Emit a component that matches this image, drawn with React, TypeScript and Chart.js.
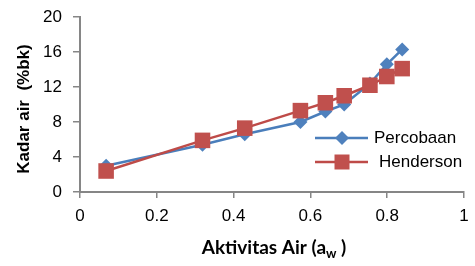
import React, { useEffect, useRef } from "react";
import { Chart, registerables } from "chart.js";

Chart.register(...registerables);

const aw = [0.068, 0.319, 0.429, 0.574, 0.639, 0.688, 0.755, 0.799, 0.839];
const percobaan = [3.0, 5.4, 6.6, 8.0, 9.2, 10.0, 12.4, 14.6, 16.3];
const henderson = [2.4, 5.9, 7.3, 9.3, 10.2, 11.0, 12.2, 13.2, 14.1];
const seriesNames = ["Percobaan", "Henderson"];
const xTickLabels = ["0", "0.2", "0.4", "0.6", "0.8", "1"];
const yTitle = "Kadar air  (%bk)";
const xTitleMain = "Aktivitas Air (a";
const xTitleSub = "w";
const xTitleEnd = " )";

const BLUE_LINE = "#4A7EBB";
const BLUE_FILL = "#4F81BD";
const RED_LINE = "#BE4B48";
const RED_FILL = "#C0504D";
const AXIS = "#868686";
const TICK_FONT = "'Liberation Sans', Arial, sans-serif";

const titlesPlugin = {
  id: "titlesLegend",
  afterDraw(chart: any) {
    const ctx = chart.ctx as CanvasRenderingContext2D;
    ctx.save();
    ctx.fillStyle = "#000";
    ctx.font = `bold 17px ${TICK_FONT}`;
    ctx.textAlign = "center";
    ctx.textBaseline = "middle";
    ctx.translate(24, 109);
    ctx.rotate(-Math.PI / 2);
    ctx.fillText(yTitle, 0, 0);
    ctx.restore();

    ctx.save();
    ctx.fillStyle = "#000";
    ctx.textBaseline = "alphabetic";
    ctx.textAlign = "left";
    const mainFont = "bold 19px Lato, 'Open Sans', sans-serif";
    const subFont = "bold 13px Lato, 'Open Sans', sans-serif";
    ctx.font = mainFont;
    const w1 = ctx.measureText(xTitleMain).width;
    const w3 = ctx.measureText(xTitleEnd).width;
    ctx.font = subFont;
    const w2 = ctx.measureText(xTitleSub).width;
    const total = w1 + w2 + w3;
    let x = 274 - total / 2;
    const base = 254;
    ctx.font = mainFont;
    ctx.fillText(xTitleMain, x, base);
    x += w1;
    ctx.font = subFont;
    ctx.fillText(xTitleSub, x, base + 4);
    x += w2;
    ctx.font = mainFont;
    ctx.fillText(xTitleEnd, x, base);
    ctx.restore();

    ctx.save();
    const items = [
      { name: seriesNames[0], line: BLUE_LINE, fill: BLUE_FILL, y: 138, tx: 374, shape: "diamond" },
      { name: seriesNames[1], line: RED_LINE, fill: RED_FILL, y: 162, tx: 379, shape: "square" },
    ];
    for (const it of items) {
      ctx.strokeStyle = it.line;
      ctx.lineWidth = 2.5;
      ctx.beginPath();
      ctx.moveTo(315, it.y);
      ctx.lineTo(368, it.y);
      ctx.stroke();
      ctx.fillStyle = it.fill;
      ctx.beginPath();
      if (it.shape === "diamond") {
        ctx.moveTo(342, it.y - 7);
        ctx.lineTo(349, it.y);
        ctx.lineTo(342, it.y + 7);
        ctx.lineTo(335, it.y);
        ctx.closePath();
      } else {
        ctx.rect(342 - 7.5, it.y - 7.5, 15, 15);
      }
      ctx.fill();
      ctx.fillStyle = "#000";
      ctx.font = `17px ${TICK_FONT}`;
      ctx.textAlign = "left";
      ctx.textBaseline = "middle";
      ctx.fillText(it.name, it.tx, it.y);
    }
    ctx.restore();
  },
};

export default function App() {
  const ref = useRef<HTMLCanvasElement | null>(null);
  useEffect(() => {
    if (!ref.current) return;
    const chart = new Chart(ref.current, {
      type: "line",
      data: {
        datasets: [
          {
            label: seriesNames[0],
            data: aw.map((x, i) => ({ x, y: percobaan[i] })),
            borderColor: BLUE_LINE,
            backgroundColor: BLUE_FILL,
            borderWidth: 2.5,
            pointStyle: "rectRot",
            pointRadius: 7,
            pointBorderWidth: 0,
            pointBackgroundColor: BLUE_FILL,
            order: 1,
          },
          {
            label: seriesNames[1],
            data: aw.map((x, i) => ({ x, y: henderson[i] })),
            borderColor: RED_LINE,
            backgroundColor: RED_FILL,
            borderWidth: 2.5,
            pointStyle: "rect",
            pointRadius: 11,
            pointBorderWidth: 0,
            pointBackgroundColor: RED_FILL,
            order: 0,
          },
        ],
      },
      options: {
        responsive: false,
        animation: false,
        layout: { padding: { top: 17, right: 5, left: 0, bottom: 0 } },
        plugins: { legend: { display: false }, tooltip: { enabled: false } },
        scales: {
          x: {
            type: "linear",
            min: 0,
            max: 1,
            ticks: {
              stepSize: 0.2,
              color: "#000",
              font: { size: 17, family: TICK_FONT },
              padding: 8,
              callback: (_v: any, i: number) => xTickLabels[i],
            },
            grid: { drawOnChartArea: false, color: AXIS, tickLength: 6, lineWidth: 1.5 },
            border: { color: AXIS, width: 2 },
            afterFit: (s: any) => {
              s.height = 74;
              s.paddingRight = 0;
              s.paddingLeft = 0;
            },
          },
          y: {
            min: 0,
            max: 20,
            ticks: {
              stepSize: 4,
              color: "#000",
              font: { size: 17, family: TICK_FONT },
              padding: 11,
            },
            grid: { drawOnChartArea: false, color: AXIS, tickLength: 7, lineWidth: 1.5 },
            border: { color: AXIS, width: 2 },
            afterFit: (s: any) => {
              s.width = 80;
              s.paddingTop = 0;
              s.paddingBottom = 0;
            },
          },
        },
      },
      plugins: [titlesPlugin],
    });
    return () => chart.destroy();
  }, []);
  return (
    <div style={{ position: "absolute", left: 0, top: 0, width: 475, height: 266, background: "#fff" }}>
      <canvas ref={ref} width={475} height={266} style={{ display: "block" }} />
    </div>
  );
}
